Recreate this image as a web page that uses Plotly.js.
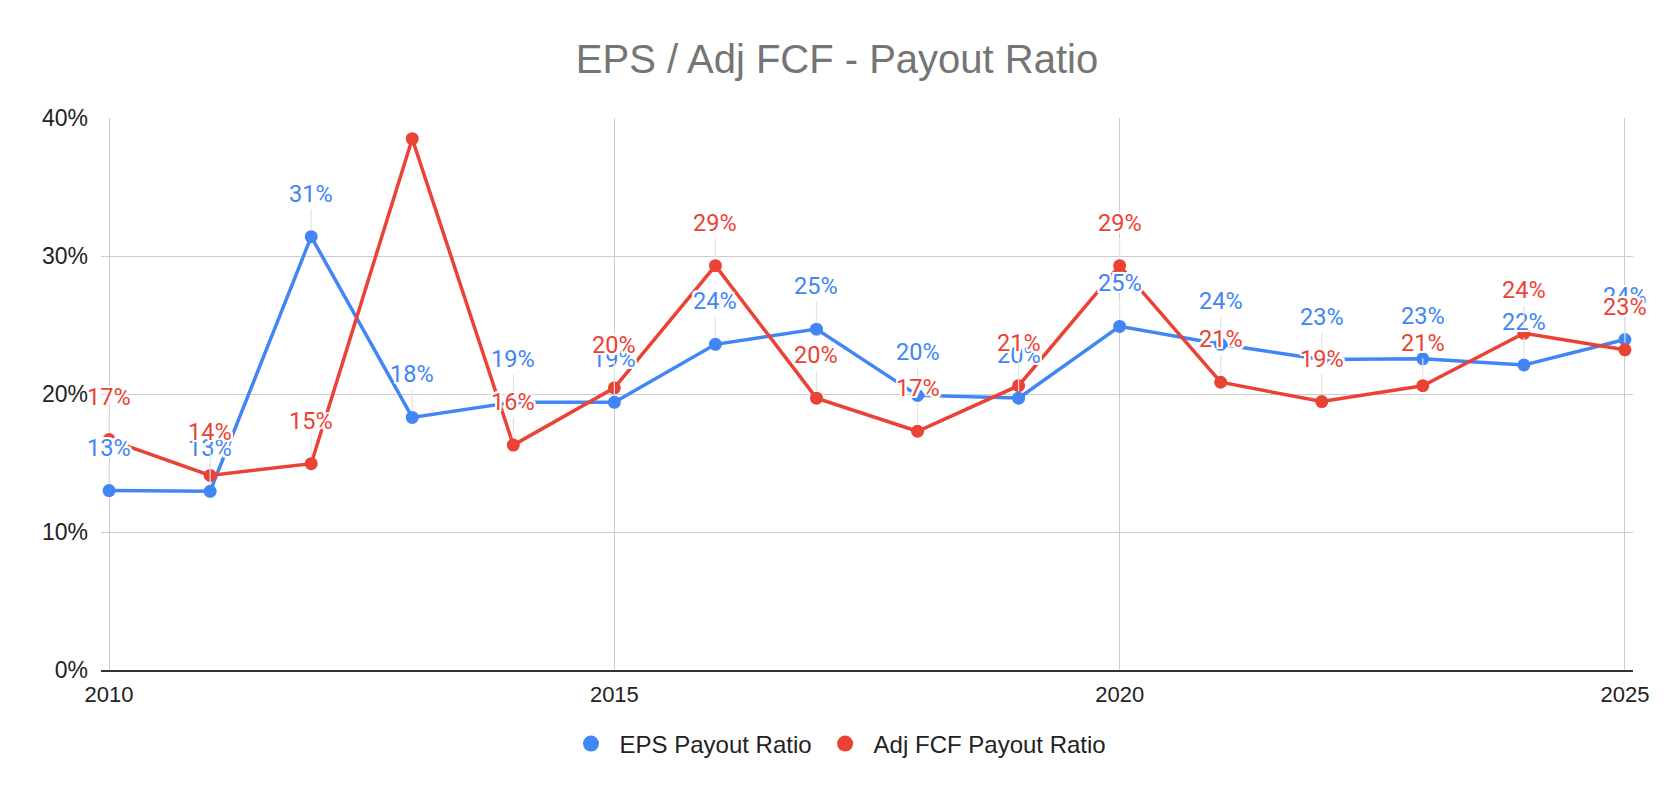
<!DOCTYPE html>
<html><head><meta charset="utf-8">
<script src="https://cdn.plot.ly/plotly-3.0.1.min.js"></script>
<style>html,body{margin:0;padding:0;background:#fff}#chart{width:1674px;height:798px}</style>
</head><body><div id="chart"></div>
<script>
const years = [2010,2011,2012,2013,2014,2015,2016,2017,2018,2019,2020,2021,2022,2023,2024,2025];
const epsPayout = [13.0,12.95,31.4,18.3,19.4,19.4,23.6,24.7,19.9,19.7,24.9,23.6,22.5,22.55,22.1,23.95];
const fcfPayout = [16.7,14.1,14.95,38.5,16.3,20.45,29.3,19.7,17.3,20.6,29.3,20.85,19.45,20.6,24.4,23.2];
const seriesNames = ['EPS Payout Ratio','Adj FCF Payout Ratio'];
const seriesColors = ['#4285F4','#EA4335'];
const xTicks = [2010,2015,2020,2025];

const FONT = 'Arial, "Liberation Sans", sans-serif';
const LABEL_FONT = 'Roboto, Arial, sans-serif';
const yMax = 40;
const plotH = 798 - 118 - 128;
const labelOffsetPx = 43;
const labelOffsetVal = 46 * yMax / plotH;

const allSeries = [epsPayout, fcfPayout];
const traces = [];
allSeries.forEach((vals, i) => {
  traces.push({
    x: years, y: vals, type: 'scatter', mode: 'lines+markers',
    name: seriesNames[i], showlegend: false,
    line: {color: seriesColors[i], width: 3.5},
    marker: {color: seriesColors[i], size: 13},
    hoverinfo: 'x+y'
  });
});
allSeries.forEach((vals, i) => {
  traces.push({
    x: [null], y: [null], type: 'scatter', mode: 'markers',
    name: seriesNames[i], showlegend: true,
    marker: {color: seriesColors[i], size: 16}
  });
});

const halo = '2px 2px 0 #fff, -2px -2px 0 #fff, 2px -2px 0 #fff, -2px 2px 0 #fff, 0 2px 0 #fff, 0 -2px 0 #fff, 2px 0 0 #fff, -2px 0 0 #fff';
const annotations = [];
allSeries.forEach((vals, i) => {
  vals.forEach((v, j) => {
    if (v + labelOffsetVal > yMax) return;
    annotations.push({
      x: years[j], y: v, xref: 'x', yref: 'y',
      text: Math.round(v) + '%',
      showarrow: true, arrowhead: 0, arrowwidth: 1.2, arrowcolor: '#e3e3e3',
      ax: 0, ay: -labelOffsetPx, standoff: 7,
      font: {family: LABEL_FONT, size: 23.5, color: seriesColors[i], shadow: halo}
    });
  });
});

const layout = {
  width: 1674, height: 798,
  margin: {l: 101, r: 41, t: 118, b: 128, pad: 0},
  paper_bgcolor: '#ffffff', plot_bgcolor: '#ffffff',
  title: {
    text: 'EPS / Adj FCF - Payout Ratio',
    font: {family: FONT, size: 40, color: '#757575'},
    xref: 'container', x: 0.5, xanchor: 'center',
    yref: 'container', y: 1 - 59/798, yanchor: 'middle'
  },
  xaxis: {
    range: [2009.92, 2025.08], tickvals: xTicks, ticktext: xTicks.map(String),
    showgrid: true, gridcolor: '#cccccc', gridwidth: 1.3,
    showline: true, linecolor: '#333333', linewidth: 2,
    zeroline: false, ticks: '', ticklabelstandoff: 4,
    tickfont: {family: FONT, size: 22, color: '#222222'}
  },
  yaxis: {
    range: [0, yMax], dtick: 10, ticksuffix: '%',
    showgrid: true, gridcolor: '#cccccc', gridwidth: 1.3,
    zeroline: false, showline: false, ticks: '', ticklabelstandoff: 12,
    tickfont: {family: FONT, size: 23, color: '#222222'}
  },
  legend: {
    orientation: 'h', xref: 'container', x: 0.5, xanchor: 'center',
    yref: 'container', y: 1 - 744/798, yanchor: 'middle',
    font: {family: FONT, size: 24, color: '#222222'},
    itemwidth: 47,
    itemclick: false, itemdoubleclick: false
  },
  annotations: annotations,
  hovermode: 'closest'
};

Plotly.newPlot('chart', traces, layout, {displayModeBar: false, responsive: false});
</script>
</body></html>
